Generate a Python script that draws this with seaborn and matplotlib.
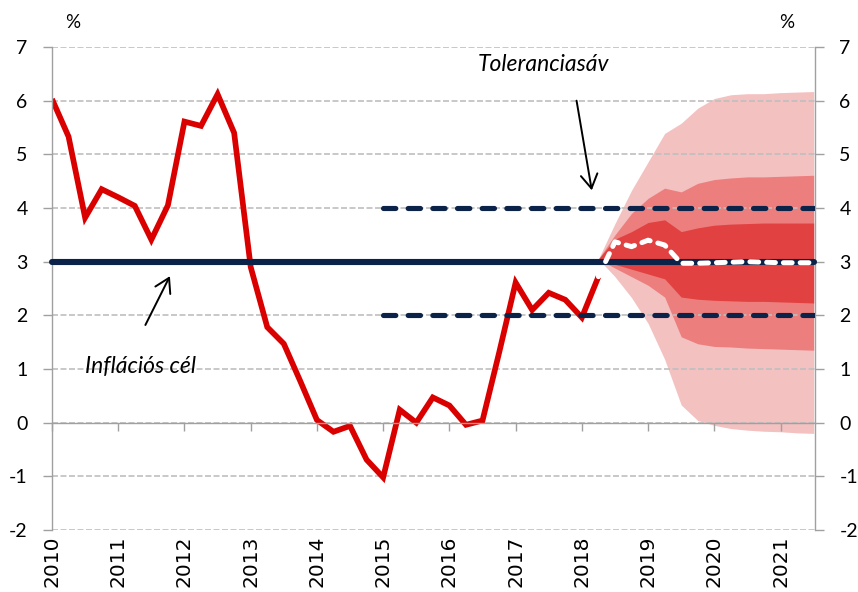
import numpy as np
import pandas as pd
import matplotlib
matplotlib.use("Agg")
import matplotlib.pyplot as plt
import seaborn as sns

# ---------------- data ----------------
start_year = 2010
years = list(range(2010, 2022))
year_labels = [str(y) for y in years]
y_ticks = [-2, -1, 0, 1, 2, 3, 4, 5, 6, 7]
y_tick_labels = ["-2", "-1", "0", "1", "2", "3", "4", "5", "6", "7"]

# actual inflation, quarterly 2010Q1 .. 2018Q2
actual = [6.03, 5.33, 3.82, 4.35,
          4.20, 4.04, 3.41, 4.05,
          5.61, 5.53, 6.12, 5.40,
          2.90, 1.78, 1.47, 0.77,
          0.05, -0.17, -0.06, -0.69,
          -1.02, 0.24, 0.00, 0.47,
          0.32, -0.04, 0.04, 1.30,
          2.61, 2.10, 2.42, 2.29,
          1.96, 2.72]

# forecast central path, 2018Q2 .. 2021Q3
central = [2.72, 3.37, 3.28, 3.40, 3.31, 2.97, 2.97, 2.98, 2.99, 3.00, 2.99, 2.98, 2.98, 2.98]

# fan chart bands, 2018Q2 .. 2021Q3
light_upper = [3.05, 3.71, 4.33, 4.86, 5.39, 5.58, 5.86, 6.04, 6.11, 6.13, 6.13, 6.15, 6.16, 6.17]
medium_upper = [3.05, 3.50, 3.90, 4.18, 4.37, 4.30, 4.46, 4.53, 4.56, 4.58, 4.58, 4.59, 4.60, 4.61]
dark_upper = [3.05, 3.42, 3.56, 3.73, 3.78, 3.56, 3.63, 3.68, 3.70, 3.71, 3.72, 3.72, 3.72, 3.72]
dark_lower = [3.05, 2.95, 2.86, 2.77, 2.68, 2.34, 2.30, 2.28, 2.27, 2.26, 2.26, 2.25, 2.24, 2.23]
medium_lower = [3.05, 2.88, 2.72, 2.56, 2.34, 1.60, 1.47, 1.42, 1.41, 1.39, 1.38, 1.37, 1.36, 1.35]
light_lower = [3.05, 2.72, 2.33, 1.85, 1.18, 0.33, 0.04, -0.05, -0.11, -0.14, -0.16, -0.17, -0.19, -0.20]

target = 3.0
tolerance_low = 2.0
tolerance_high = 4.0
tolerance_start = 2015.0
last_period = 2021.5

# ---------------- frame ----------------
n_act = len(actual)
x_act = start_year + np.arange(n_act) / 4.0
x_fc = x_act[-1] + np.arange(len(central)) / 4.0

df_act = pd.DataFrame({"x": x_act, "y": actual})
df_fc = pd.DataFrame({"x": x_fc, "y": central})
df_target = pd.DataFrame({"x": [start_year, last_period], "y": [target, target]})
df_tol_hi = pd.DataFrame({"x": [tolerance_start, last_period], "y": [tolerance_high] * 2})
df_tol_lo = pd.DataFrame({"x": [tolerance_start, last_period], "y": [tolerance_low] * 2})

# ---------------- style ----------------
sns.set_theme(style="white")
plt.rcParams["font.family"] = ["Lato", "DejaVu Sans"]
plt.rcParams["axes.unicode_minus"] = False
plt.rcParams["text.color"] = "black"
plt.rcParams["xtick.labelcolor"] = "black"
plt.rcParams["ytick.labelcolor"] = "black"

RED = "#DA0000"
NAVY = "#0C2349"
LIGHT = "#F4C1C1"
MEDIUM = "#EC7E7E"
DARK = "#E24141"
GRID = "#BFBFBF"
AXIS = "#A0A0A0"

fig = plt.figure(figsize=(8.58, 5.92), dpi=100)
ax = fig.add_axes([52 / 858, 1 - 530 / 592, (815 - 52) / 858, (530 - 47) / 592])

# fan
ax.fill_between(x_fc, light_lower, light_upper, color=LIGHT, lw=0, zorder=1)
ax.fill_between(x_fc, medium_lower, medium_upper, color=MEDIUM, lw=0, zorder=1.1)
ax.fill_between(x_fc, dark_lower, dark_upper, color=DARK, lw=0, zorder=1.2)

# lines
sns.lineplot(data=df_act, x="x", y="y", ax=ax, color=RED, linewidth=4.1,
             sort=False, estimator=None, zorder=2, solid_joinstyle="miter",
             solid_capstyle="butt")
sns.lineplot(data=df_target, x="x", y="y", ax=ax, color=NAVY, linewidth=4.4,
             sort=False, estimator=None, zorder=3, solid_capstyle="round",
             clip_on=False)
for d in (df_tol_hi, df_tol_lo):
    sns.lineplot(data=d, x="x", y="y", ax=ax, color=NAVY, linewidth=3.7,
                 sort=False, estimator=None, zorder=3.1,
                 linestyle=(0, (2.4, 2.4)), dash_capstyle="round")
sns.lineplot(data=df_fc, x="x", y="y", ax=ax, color="white", linewidth=3.6,
             sort=False, estimator=None, zorder=4,
             linestyle=(0, (1.75, 1.6)), dash_capstyle="round")

# axes
ax.set_xlim(start_year, 2021.52)
ax.set_ylim(-2, 7)
ax.set_xlabel("")
ax.set_ylabel("")
ax.set_axisbelow("line")
ax.yaxis.grid(True, color=GRID, linestyle=(0, (3.6, 1.5)), linewidth=1.2)
ax.xaxis.grid(False)

ax.spines["top"].set_visible(False)
for s in ("left", "right", "bottom"):
    ax.spines[s].set_color(AXIS)
    ax.spines[s].set_linewidth(1.0)
ax.spines["bottom"].set_position(("data", 0))
ax.spines["bottom"].set_zorder(2.5)

ax.set_xticks(years)
ax.tick_params(axis="x", direction="out", length=6, width=1.0, color=AXIS,
               labelbottom=False, bottom=True)
ax.set_yticks(y_ticks)
ax.set_yticklabels(y_tick_labels)
ax.tick_params(axis="y", direction="out", length=6.5, width=1.0, color=AXIS,
               left=True, right=True, labelleft=True, labelright=True,
               labelsize=14, pad=11, labelcolor="black")

sec = ax.secondary_xaxis(0)
sec.set_xticks(years)
sec.set_xticklabels(year_labels, rotation=90, fontsize=14.5,
                    fontfamily="DejaVu Sans", color="black")
sec.tick_params(length=0, pad=4)
sec.spines["bottom"].set_visible(False)

# unit labels
fig.text(73 / 858, 1 - 22 / 592, "%", ha="center", va="center", fontsize=13.5,
         color="black")
fig.text(787 / 858, 1 - 22 / 592, "%", ha="center", va="center", fontsize=13.5,
         color="black")

# annotations
arrow_kw = dict(arrowstyle="->,head_length=0.5,head_width=0.3", lw=1.4,
                color="black", mutation_scale=20, shrinkA=0, shrinkB=0)
ax.text(2017.42, 6.68, "Toleranciasáv", style="italic", fontsize=16.5,
        ha="center", va="center", color="black")
ax.annotate("", xy=(2018.15, 4.33), xytext=(2017.92, 6.0), arrowprops=arrow_kw,
            zorder=5)
ax.text(2011.34, 1.05, "Inflációs cél", style="italic", fontsize=16.5,
        ha="center", va="center", color="black")
ax.annotate("", xy=(2011.78, 2.73), xytext=(2011.41, 1.82), arrowprops=arrow_kw,
            zorder=5)

fig.savefig("out.png", dpi=100)
